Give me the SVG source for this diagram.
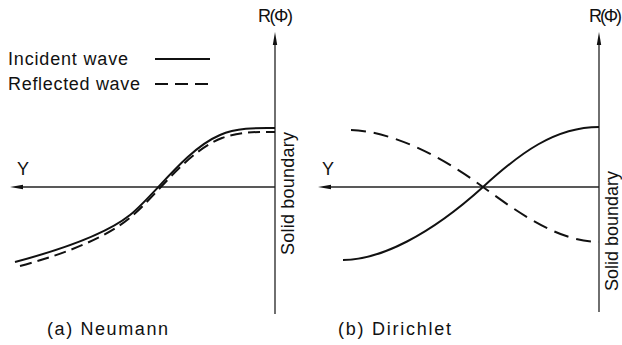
<svg xmlns="http://www.w3.org/2000/svg" width="622" height="345" viewBox="0 0 622 345">
<style>
text{font-family:"Liberation Sans",Arial,sans-serif;font-size:18px;fill:#111}
.ax{stroke:#222;stroke-width:1.3;fill:none}
.sol{stroke:#111;stroke-width:2;fill:none}
.dl{stroke:#111;stroke-width:2;fill:none;stroke-dasharray:12 6}
.dr{stroke:#111;stroke-width:2;fill:none;stroke-dasharray:15 8}
.ah{fill:#111}
</style>
<rect width="622" height="345" fill="#fff"/>
<g id="legend">
<text x="8" y="65" textLength="120" lengthAdjust="spacing">Incident wave</text>
<text x="8" y="90" textLength="132" lengthAdjust="spacing">Reflected wave</text>
<line class="sol" x1="155" y1="59" x2="210" y2="59"/>
<line class="sol" x1="155" y1="84" x2="210" y2="84" stroke-dasharray="13 7"/>
</g>
<g id="panel-a">
<text x="258" y="22" textLength="35" lengthAdjust="spacing">R(Φ)</text>
<text x="17" y="175">Y</text>
<text transform="translate(294,255) rotate(-90)" textLength="123" lengthAdjust="spacing">Solid boundary</text>
<text x="47" y="335" textLength="121" lengthAdjust="spacing">(a)  Neumann</text>
</g>
<g id="panel-b">
<text x="589" y="22" textLength="33" lengthAdjust="spacing">R(Φ)</text>
<text x="322" y="175">Y</text>
<text transform="translate(618,291) rotate(-90)" textLength="120" lengthAdjust="spacing">Solid boundary</text>
<text x="338" y="335" textLength="113" lengthAdjust="spacing">(b)  Dirichlet</text>
</g>
<g id="connectors">
<line class="ax" x1="275" y1="40" x2="275" y2="314"/>
<polygon class="ah" points="275,32 277.2,45 272.8,45"/>
<line class="ax" x1="20" y1="187" x2="275" y2="187"/>
<polygon class="ah" points="10,187 23,184.8 23,189.2"/>
<line class="ax" x1="599" y1="40" x2="599" y2="312"/>
<polygon class="ah" points="599,32 601.2,45 596.8,45"/>
<line class="ax" x1="328" y1="187" x2="599" y2="187"/>
<polygon class="ah" points="318,187 331,184.8 331,189.2"/>
<path class="sol" d="M15,262 C60,250 105,235 130,215 C155,195 185,150 220,135 C238,127 260,128 275,128"/>
<path class="dl" d="M20,266 C65,254 108,237 132,216 C157,195 186,152 222,138 C242,131 260,132 275,132"/>
<path class="sol" d="M343,260 C380,260 430,235 483,187 C520,153 555,127 599,127"/>
<path class="dr" d="M351,130 C390,131 440,155 483,187 C520,214 560,242 599,242"/>
</g>
</svg>
